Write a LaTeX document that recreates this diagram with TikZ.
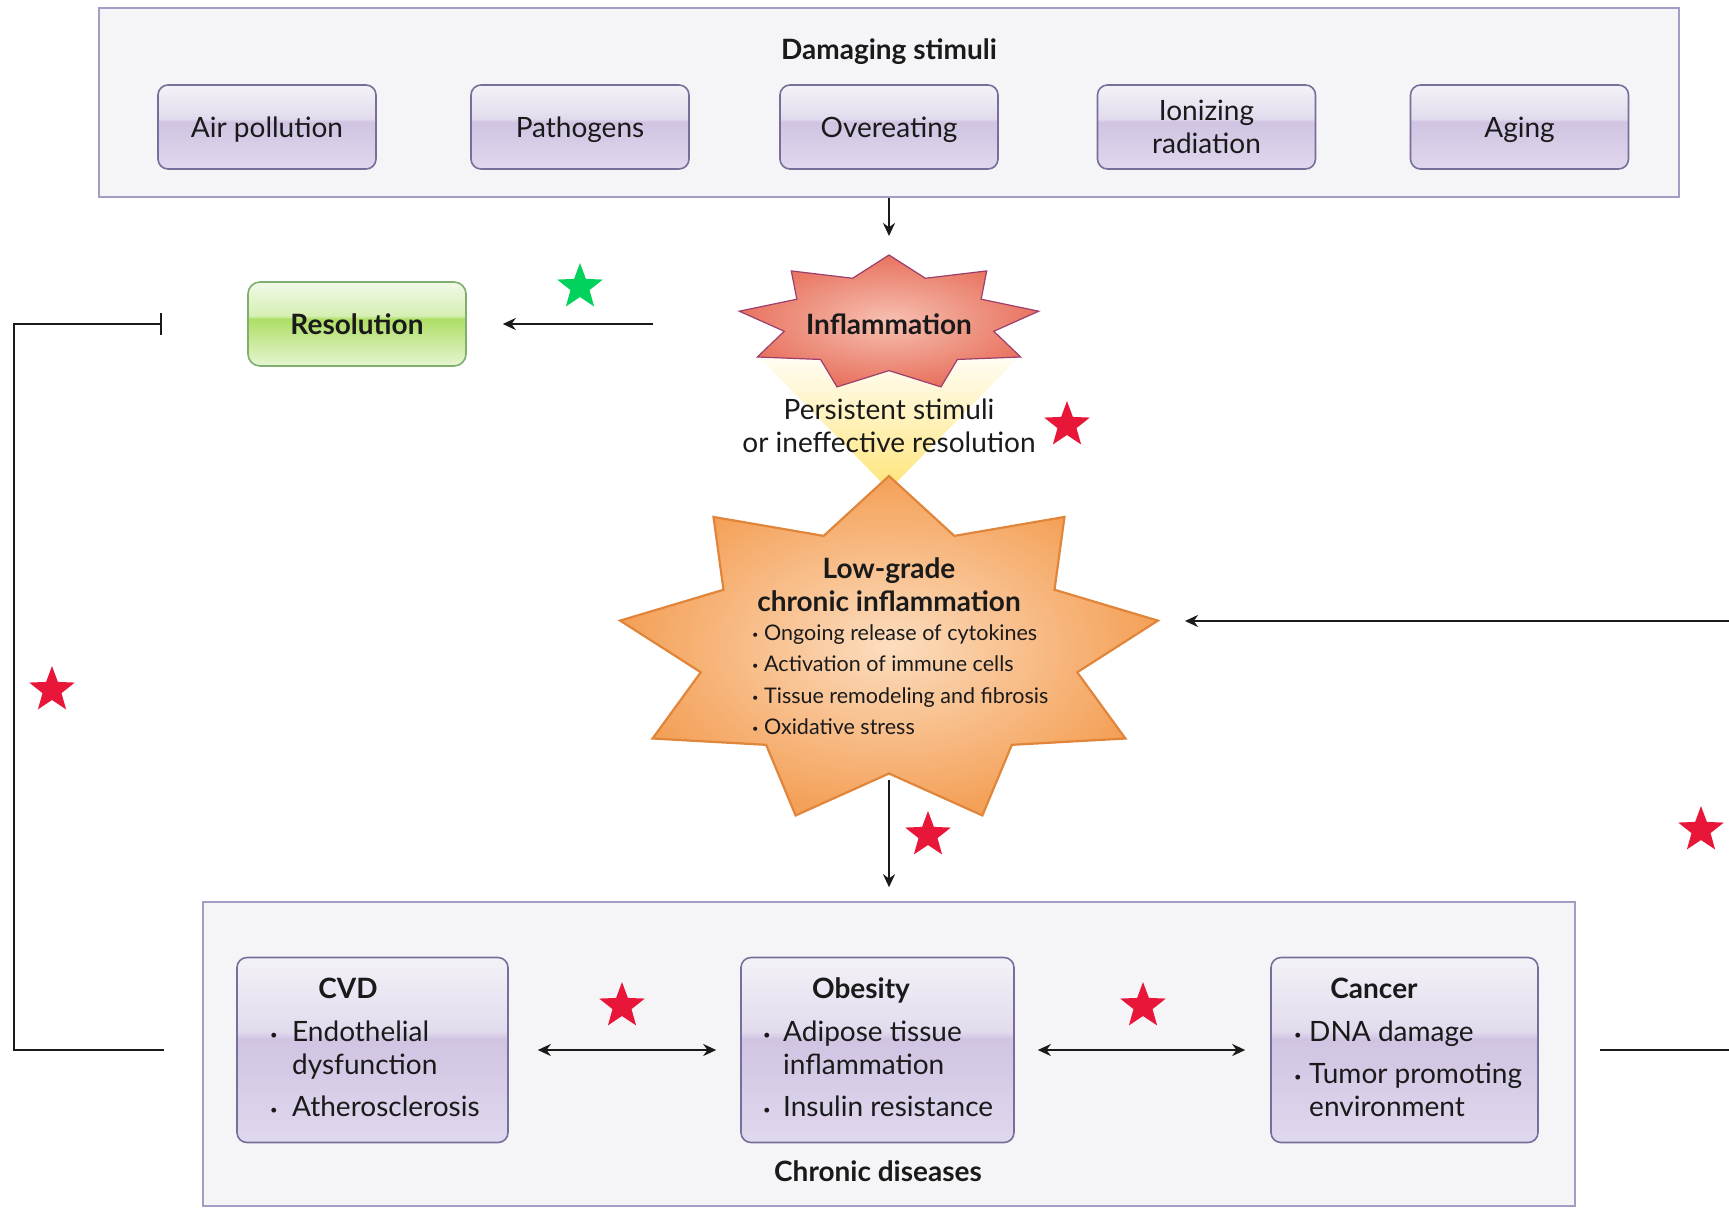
\documentclass[tikz,border=0pt]{standalone}
\usepackage{fontspec}
\setmainfont{Lato}
\usetikzlibrary{arrows.meta,shapes.geometric}

% ---------- colours ----------
\definecolor{ink}{HTML}{1A1A1A}
\definecolor{framefill}{HTML}{F5F5F8}
\definecolor{frameline}{HTML}{A49EC6}
\definecolor{boxline}{HTML}{776E9A}
\definecolor{glT}{HTML}{F4F2F8}
\definecolor{glH}{HTML}{E2DBED}
\definecolor{glM}{HTML}{D0C4E2}
\definecolor{glB}{HTML}{E0D8EE}
\definecolor{grT}{HTML}{F1F9E8}
\definecolor{grH}{HTML}{D6EFB3}
\definecolor{grM}{HTML}{AEDE66}
\definecolor{grB}{HTML}{E6F5D2}
\definecolor{resline}{HTML}{7FAE6F}
\definecolor{inflIn}{HTML}{F7C0B2}
\definecolor{inflOut}{HTML}{E8735F}
\definecolor{inflLine}{HTML}{9C3E6E}
\definecolor{lgIn}{HTML}{FCDDBF}
\definecolor{lgOut}{HTML}{F4A057}
\definecolor{lgLine}{HTML}{E0853A}
\definecolor{funTop}{HTML}{FFFDF3}
\definecolor{funBot}{HTML}{FFE57A}
\definecolor{starred}{HTML}{E8173A}
\definecolor{stargreen}{HTML}{00D25B}

% glossy button shadings (25bp = bottom of path, 75bp = top of path)
\pgfdeclareverticalshading{purplegloss}{100bp}{color(0bp)=(glB); color(25bp)=(glB); color(53bp)=(glM); color(55bp)=(glH); color(75bp)=(glT); color(100bp)=(glT)}
\pgfdeclareverticalshading{greengloss}{100bp}{color(0bp)=(grB); color(25bp)=(grB); color(53bp)=(grM); color(55bp)=(grH); color(75bp)=(grT); color(100bp)=(grT)}

% nine-pointed stretched star: centre x, centre y, radius x, radius y, inner ratio, style
\newcommand\spikystar[6]{%
  \path[#6] ({#1},{#2-#4})
    \foreach \k [evaluate=\k as \rr using {ifthenelse(mod(\k,2)==0,1,#5)}] in {1,...,17}
      { -- ({#1+#3*\rr*cos(90+20*\k)},{#2-#4*\rr*sin(90+20*\k)}) } -- cycle;}

\newcommand\lgbullet{\makebox[12pt][l]{\raisebox{1.5pt}{\fontsize{11}{11}\selectfont\textbullet}}}
\newcommand\dsbullet[1]{\makebox[#1][l]{\raisebox{2.5pt}{\fontsize{13}{13}\selectfont\textbullet}}}

\begin{document}
\begin{tikzpicture}[x=1pt,y=-1pt,
  every node/.style={inner sep=0pt, text=ink},
  base/.style={font=\fontsize{28}{33}\selectfont},
  line1/.style={base, text height=24pt, text depth=3pt},
  boldline/.style={line1, font=\fontsize{28}{33}\selectfont\bfseries},
  small/.style={font=\fontsize{21.5}{25}\selectfont, text height=17.5pt, text depth=1.5pt},
  frame/.style={draw=frameline, fill=framefill, line width=1.6pt},
  stimbox/.style={draw=boxline, line width=1.6pt, rounded corners=10pt, shade, shading=purplegloss,
                  minimum width=218pt, minimum height=84pt, base, align=center},
  disbox/.style={draw=boxline, line width=1.6pt, rounded corners=10pt, shade, shading=purplegloss,
                 minimum height=185pt},
  resbox/.style={draw=resline, line width=1.6pt, rounded corners=12pt, shade, shading=greengloss,
                 minimum width=218pt, minimum height=84pt},
  redstar/.style={star, star points=5, star point ratio=2.4, fill=starred, draw=none,
                  minimum size=48pt, inner sep=0pt},
  greenstar/.style={redstar, fill=stargreen},
  conn/.style={draw=ink, line width=2pt},
  arr/.style={conn, -{Stealth[length=13pt,width=12pt]}},
  darr/.style={conn, {Stealth[length=13pt,width=12pt]}-{Stealth[length=13pt,width=12pt]}},
  inhib/.style={conn, -{Bar[width=22pt]}},
]
\fill[white] (0,0) rectangle (1729,1208);
\useasboundingbox (0,0) rectangle (1729,1208);

% ---------- damaging stimuli ----------
\node[frame, minimum width=1580pt, minimum height=189pt] (stimframe) at (889,102.5) {};
\node[boldline] (stimtitle) at (889,49) {Damaging stimuli};
\node[stimbox, text height=24pt, text depth=3pt] (air)  at (267,127)    {Air pollution};
\node[stimbox, text height=24pt, text depth=3pt] (path) at (580,127)    {Pathogens};
\node[stimbox, text height=24pt, text depth=3pt] (over) at (889,127)    {Overeating};
\node[stimbox] (ion)  at (1206.5,127) {Ionizing\\radiation};
\node[stimbox, text height=24pt, text depth=3pt] (age)  at (1519.5,127) {Aging};

% ---------- chronic diseases ----------
\node[frame, minimum width=1372pt, minimum height=304pt] (diseases) at (889,1054) {};
\node[disbox, minimum width=271pt] (cvd) at (372.5,1050) {};
\node[disbox, minimum width=273pt] (ob)  at (877.5,1050) {};
\node[disbox, minimum width=267pt] (ca)  at (1404.5,1050) {};

% ---------- funnel and the two inflammation stars ----------
\coordinate (funL) at (760,358);
\coordinate (funR) at (1018,358);
\coordinate (funB) at (889,490);
\shade[top color=funTop, bottom color=funBot] (funL) -- (funR) -- (funB) -- cycle;

\spikystar{889}{323}{152}{68}{0.7}{draw=inflLine, line width=1.2pt, inner color=inflIn, outer color=inflOut}
\spikystar{889}{651}{273}{175}{0.7}{draw=lgLine, line width=2.2pt, inner color=lgIn, outer color=lgOut}

\coordinate (inflTop) at (889,255);
\coordinate (inflL) at (740,324);
\coordinate (lgBot) at (889,775);
\coordinate (lgR) at (1158,621);
\coordinate (edgeR1) at (1729,621);
\coordinate (edgeR2) at (1729,1050);
\coordinate (fbCorner) at (14,700);

\node[boldline] (infl) at (889,324) {Inflammation};
\node[line1] (per1) at (889,409) {Persistent stimuli};
\node[line1] (per2) at (889,442) {or ineffective resolution};

\node[boldline] (lgt1) at (889,568) {Low-grade};
\node[boldline] (lgt2) at (889,601) {chronic inflammation};
\node[small, anchor=west] (lb1) at (752,632) {\lgbullet Ongoing release of cytokines};
\node[small, anchor=west] (lb2) at (752,663) {\lgbullet Activation of immune cells};
\node[small, anchor=west] (lb3) at (752,695) {\lgbullet Tissue remodeling and fibrosis};
\node[small, anchor=west] (lb4) at (752,726) {\lgbullet Oxidative stress};

% ---------- resolution ----------
\node[resbox, boldline] (res) at (357,324) {Resolution};

% ---------- disease texts ----------
\node[boldline] (cvdT) at (348,988) {CVD};
\node[line1, anchor=west] (cvd1) at (270,1031) {\dsbullet{22pt}Endothelial};
\node[line1, anchor=west] (cvd2) at (292,1064) {dysfunction};
\node[line1, anchor=west] (cvd3) at (270,1106) {\dsbullet{22pt}Atherosclerosis};

\node[boldline] (obT) at (861,988) {Obesity};
\node[line1, anchor=west] (ob1) at (763,1031) {\dsbullet{20pt}Adipose tissue};
\node[line1, anchor=west] (ob2) at (783,1064) {inflammation};
\node[line1, anchor=west] (ob3) at (763,1106) {\dsbullet{20pt}Insulin resistance};

\node[boldline] (caT) at (1374,988) {Cancer};
\node[line1, anchor=west] (ca1) at (1294,1031) {\dsbullet{15pt}DNA damage};
\node[line1, anchor=west] (ca2) at (1294,1073) {\dsbullet{15pt}Tumor promoting};
\node[line1, anchor=west] (ca3) at (1309,1106) {environment};

\node[boldline] (distitle) at (878,1171) {Chronic diseases};

% ---------- stars ----------
\node[greenstar] (gs)  at (580,287)  {};
\node[redstar]   (rs1) at (1067,425) {};
\node[redstar]   (rs2) at (52,690)   {};
\node[redstar]   (rs3) at (928,835)  {};
\node[redstar]   (rs4) at (1701,830) {};
\node[redstar]   (rs5) at (622,1006) {};
\node[redstar]   (rs6) at (1143,1006) {};

% ---------- connectors ----------
\draw[arr, shorten >=19pt] (stimframe.south) -- (inflTop);
\draw[arr, shorten <=87pt, shorten >=36pt] (inflL) -- (res.east);
\draw[inhib, shorten <=38pt, shorten >=85pt] (diseases.west |- cvd.center) -| (fbCorner) |- (res.west);
\draw[arr, shorten <=5pt, shorten >=14pt] (lgBot) -- (diseases.north);
\draw[arr, shorten >=27pt] (edgeR1) -- (lgR);
\draw[conn, shorten <=24pt] (diseases.east |- ca.center) -- (edgeR2);
\draw[darr, shorten <=29pt, shorten >=24pt] (cvd.east) -- (ob.west);
\draw[darr, shorten <=23pt, shorten >=25pt] (ob.east) -- (ca.west);
\end{tikzpicture}
\end{document}
